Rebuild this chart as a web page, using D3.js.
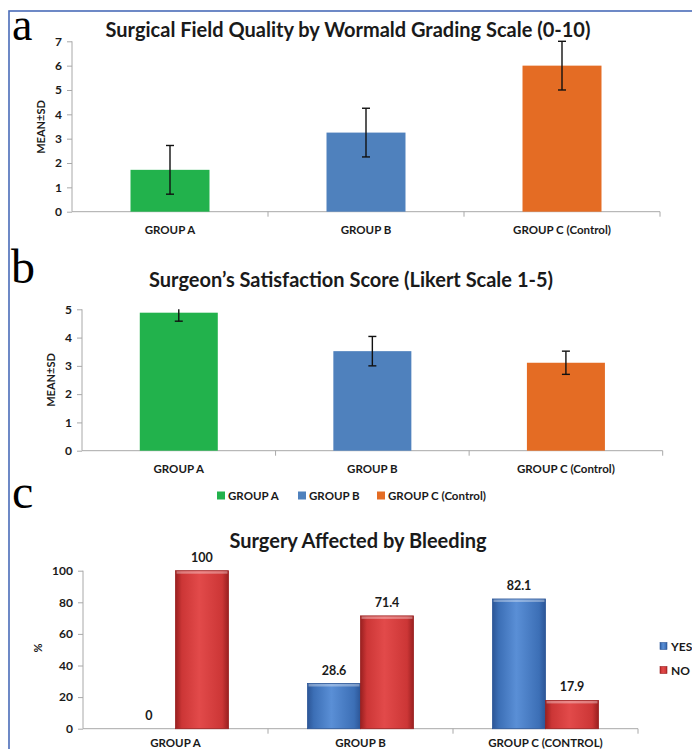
<!DOCTYPE html>
<html><head><meta charset="utf-8">
<script src="https://cdn.jsdelivr.net/npm/d3@7"></script>
<style>
html,body{margin:0;padding:0;background:#fff;}
svg{display:block;}
text{font-family:Lato,"Open Sans",sans-serif;font-weight:bold;fill:#1a1a1a;}
.letter{font-family:"Liberation Serif","DejaVu Serif",serif;font-weight:normal;fill:#000;}
</style></head>
<body>
<svg id="c" width="692" height="749"></svg>
<script>
// ---- data ----
const groups = ["GROUP A", "GROUP B", "GROUP C (Control)"];
const groupColors = ["#22b24c", "#4f81bd", "#e46c24"];
const wormaldMean = [1.72, 3.25, 6.0];
const wormaldSD = [1.0, 1.0, 1.0];
const wormaldTicks = [0, 1, 2, 3, 4, 5, 6, 7];
const satisfactionMean = [4.88, 3.52, 3.11];
const satisfactionSD = [0.30, 0.52, 0.41];
const satisfactionTicks = [0, 1, 2, 3, 4, 5];
const bleedGroups = ["GROUP A", "GROUP B", "GROUP C (CONTROL)"];
const bleedSeries = ["YES", "NO"];
const bleedYes = [0, 28.6, 82.1];
const bleedNo = [100, 71.4, 17.9];
const bleedTicks = [0, 20, 40, 60, 80, 100];

const svg = d3.select("#c");
const axisColor = "#a8a8a8";

// frame
svg.append("rect").attr("x", 9).attr("y", 11).attr("width", 720).attr("height", 800)
  .attr("fill", "none").attr("stroke", "#4a6cb8").attr("stroke-width", 1.6);

function panelLetter(t, x, y, size) {
  svg.append("text").attr("class", "letter").attr("x", x).attr("y", y)
    .attr("font-size", size).text(t);
}

function styleAxis(g) {
  g.selectAll("path,line").attr("stroke", axisColor).attr("stroke-width", 1);
  g.selectAll("text").attr("fill", "#1a1a1a").attr("font-family", "Lato,'Open Sans',sans-serif")
    .attr("font-weight", "bold");
}

function meanPanel(opt) {
  const x = d3.scaleBand().domain(groups).range([opt.x0, opt.x1]).padding(0);
  const y = d3.scaleLinear().domain([0, opt.ymax]).range([opt.yb, opt.yt]);
  const bw = x.bandwidth() * 0.403;
  // y axis
  const ya = svg.append("g").attr("transform", `translate(${opt.x0},0)`)
    .call(d3.axisLeft(y).tickValues(opt.ticks).tickFormat(d3.format("d")).tickSize(5).tickSizeOuter(0).tickPadding(5));
  ya.select(".domain").attr("d", `M0,${opt.yt}V${opt.yb}`);
  ya.selectAll("text").attr("font-size", 12);
  styleAxis(ya);
  // x axis
  const xa = svg.append("g").attr("transform", `translate(0,${opt.yb})`)
    .call(d3.axisBottom(x).tickSize(0).tickPadding(opt.labPad));
  xa.selectAll("text").attr("font-size", 11.5);
  styleAxis(xa);
  xa.select(".domain").attr("d", `M${opt.x0},0H${opt.x1}`);
  xa.selectAll(".bt").data(groups).enter().append("line")
    .attr("x1", d => x(d) + x.bandwidth()).attr("x2", d => x(d) + x.bandwidth())
    .attr("y1", 0).attr("y2", 5).attr("stroke", axisColor);
  // bars
  svg.append("g").selectAll("rect").data(groups).enter().append("rect")
    .attr("x", d => x(d) + (x.bandwidth() - bw) / 2)
    .attr("y", (d, i) => y(opt.mean[i]))
    .attr("width", bw)
    .attr("height", (d, i) => y(0) - y(opt.mean[i]))
    .attr("fill", (d, i) => groupColors[i]);
  // error bars
  const eg = svg.append("g").attr("stroke", "#111").attr("stroke-width", 1.4);
  groups.forEach((g, i) => {
    const cx = x(g) + x.bandwidth() / 2;
    const hiV = opt.mean[i] + opt.sd[i], loV = opt.mean[i] - opt.sd[i];
    const hi = y(Math.min(hiV, opt.ymax)), lo = y(loV);
    eg.append("line").attr("x1", cx).attr("x2", cx).attr("y1", hi).attr("y2", lo);
    if (hiV <= opt.ymax) eg.append("line").attr("x1", cx - 4).attr("x2", cx + 4).attr("y1", hi).attr("y2", hi);
    eg.append("line").attr("x1", cx - 4).attr("x2", cx + 4).attr("y1", lo).attr("y2", lo);
  });
  // title
  svg.append("text").attr("x", opt.tx).attr("y", opt.ty).attr("text-anchor", "middle")
    .attr("font-size", opt.tsize).text(opt.title);
  // y title
  svg.append("text").attr("transform", `translate(${opt.ylx},${opt.yly}) rotate(-90)`)
    .attr("text-anchor", "middle").attr("font-size", 11).text("MEAN±SD");
}

panelLetter("a", 12, 40, 46);
meanPanel({
  x0: 72, x1: 660, yb: 211.7, yt: 41.3, ymax: 7, ticks: wormaldTicks,
  mean: wormaldMean, sd: wormaldSD, labPad: 14,
  title: "Surgical Field Quality by Wormald Grading Scale (0-10)", tx: 348, ty: 37, tsize: 20,
  ylx: 45, yly: 127
});

panelLetter("b", 11, 283, 48);
meanPanel({
  x0: 82, x1: 662.7, yb: 450.7, yt: 309.3, ymax: 5, ticks: satisfactionTicks,
  mean: satisfactionMean, sd: satisfactionSD, labPad: 14,
  title: "Surgeon\u2019s Satisfaction Score (Likert Scale 1-5)", tx: 351, ty: 287, tsize: 20,
  ylx: 55, yly: 380
});

// legend for a/b
const legX = [217, 298, 377];
const lg = svg.append("g");
groups.forEach((g, i) => {
  lg.append("rect").attr("x", legX[i]).attr("y", 491.5).attr("width", 8).attr("height", 8).attr("fill", groupColors[i]);
  lg.append("text").attr("x", legX[i] + 11).attr("y", 499.5).attr("font-size", 11.5).text(g);
});

// ---- panel c ----
panelLetter("c", 12, 508, 48);
{
  const x0 = 83, x1 = 638, yb = 728.7, yt = 570.7;
  const x = d3.scaleBand().domain(bleedGroups).range([x0, x1]).padding(0);
  const xs = d3.scaleBand().domain(bleedSeries).range([0, x.bandwidth() * 0.573]).padding(0);
  const y = d3.scaleLinear().domain([0, 100]).range([yb, yt]);
  const defs = svg.append("defs");
  const cols = {YES: ["#3c6fb6", "#5a8fd6", "#2c5697"], NO: ["#cc3636", "#e24a4a", "#9a2020"]};
  bleedSeries.forEach(s => {
    const gr = defs.append("linearGradient").attr("id", "g" + s).attr("x1", 0).attr("x2", 1).attr("y1", 0).attr("y2", 0);
    gr.append("stop").attr("offset", "0%").attr("stop-color", cols[s][2]);
    gr.append("stop").attr("offset", "12%").attr("stop-color", cols[s][0]);
    gr.append("stop").attr("offset", "45%").attr("stop-color", cols[s][1]);
    gr.append("stop").attr("offset", "88%").attr("stop-color", cols[s][0]);
    gr.append("stop").attr("offset", "100%").attr("stop-color", cols[s][2]);
  });
  const ya = svg.append("g").attr("transform", `translate(${x0},0)`)
    .call(d3.axisLeft(y).tickValues(bleedTicks).tickSize(5).tickSizeOuter(0).tickPadding(5));
  ya.select(".domain").attr("d", `M0,${yt}V${yb}`);
  ya.selectAll("text").attr("font-size", 12);
  styleAxis(ya);
  const xa = svg.append("g").attr("transform", `translate(0,${yb})`)
    .call(d3.axisBottom(x).tickSize(0).tickPadding(10.5));
  xa.selectAll("text").attr("font-size", 11.5);
  styleAxis(xa);
  xa.select(".domain").attr("d", `M${x0},0H${x1}`);
  xa.selectAll(".bt").data(bleedGroups).enter().append("line")
    .attr("x1", d => x(d) + x.bandwidth()).attr("x2", d => x(d) + x.bandwidth())
    .attr("y1", 0).attr("y2", 5).attr("stroke", axisColor);

  const rows = bleedGroups.map((g, i) => ({g, YES: bleedYes[i], NO: bleedNo[i]}));
  const off = (x.bandwidth() - xs.range()[1]) / 2;
  const gg = svg.append("g").selectAll("g").data(rows).enter().append("g")
    .attr("transform", d => `translate(${x(d.g) + off},0)`);
  bleedSeries.forEach(s => {
    gg.filter(d => d[s] > 0).append("rect")
      .attr("x", xs(s)).attr("y", d => y(d[s])).attr("width", xs.bandwidth())
      .attr("height", d => y(0) - y(d[s])).attr("fill", `url(#g${s})`)
      .attr("stroke", cols[s][2]).attr("stroke-width", 0.8);
    gg.filter(d => d[s] > 0).append("rect")
      .attr("x", xs(s) + 1).attr("y", d => y(d[s]) + 0.5).attr("width", xs.bandwidth() - 2)
      .attr("height", 2.5).attr("fill", "#fff").attr("opacity", 0.35);
    gg.append("text").attr("x", xs(s) + xs.bandwidth() / 2).attr("y", d => y(d[s]) - 9)
      .attr("text-anchor", "middle").attr("font-size", 12.5).text(d => d[s]);
  });

  svg.append("text").attr("x", 358).attr("y", 548).attr("text-anchor", "middle")
    .attr("font-size", 20).text("Surgery Affected by Bleeding");
  svg.append("text").attr("transform", `translate(42,648) rotate(-90)`)
    .attr("text-anchor", "middle").attr("font-size", 11).attr("font-weight", "normal").text("%");
  const lgc = [{s: "YES", y: 646}, {s: "NO", y: 670}];
  lgc.forEach(d => {
    svg.append("rect").attr("x", 660).attr("y", d.y - 3.5).attr("width", 7).attr("height", 7)
      .attr("fill", `url(#g${d.s})`).attr("stroke", cols[d.s][2]).attr("stroke-width", 0.6);
    svg.append("text").attr("x", 671).attr("y", d.y + 4.5).attr("font-size", 12).text(d.s);
  });
}
</script>
</body></html>
